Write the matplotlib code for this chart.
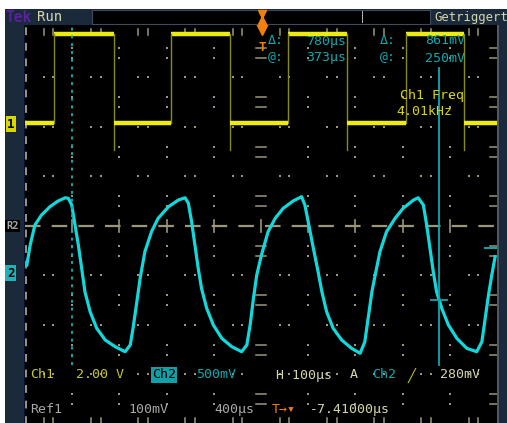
import matplotlib

matplotlib.use("Agg")
import matplotlib.pyplot as plt
import numpy as np
from matplotlib.lines import Line2D
from matplotlib.patches import Rectangle

# --- channel data ---------------------------------------------------------
# Ch2 (cyan): time in microseconds, voltage in mV relative to the Ch2 ground marker
ch2_time_us = [
    -496, -489, -479, -465, -447, -430, -415, -408, -401, -394, -387, -380, -373,
    -362, -348, -330, -309, -288, -277, -271, -263, -256, -246, -232, -218, -196,
    -175, -161, -154, -147, -140, -133, -126, -115, -101, -83, -62, -41, -30, -23,
    -16, -9, 1, 15, 30, 47, 68, 86, 93, 100, 111, 121, 129, 139, 153, 171, 192,
    210, 220, 227, 235, 242, 252, 266, 284, 301, 323, 333, 344, 351, 358, 365,
    372, 383, 397, 415, 436, 457, 468, 475, 482, 489, 496,
]
ch2_mv = [
    81, 283, 485, 586, 670, 727, 760, 754, 687, 485, 283, 50, -189,
    -391, -559, -677, -744, -795, -727, -556, -290, -51, 215, 417, 552, 670,
    737, 760, 707, 518, 283, 47, -155, -357, -525, -660, -744, -795, -727, -525,
    -256, -20, 182, 417, 552, 653, 727, 771, 687, 518, 249, 13, -189, -391, -559,
    -677, -761, -811, -694, -458, -189, -20, 215, 417, 552, 653, 737, 760, 687,
    485, 249, 13, -189, -357, -525, -660, -761, -795, -694, -458, -222, -20, 165,
]

# Ch1 (yellow): square wave edges in microseconds, levels in volts
ch1_rise_us = [-439, -191, 57, 307]
ch1_fall_us = [-311, -66, 182, 430]
ch1_high_v = 3.6
ch1_low_v = 0.0
ch1_undershoot_v = -1.09

# cursors (microseconds)
cursor_a_us = -400
cursor_b_us = 378

# scope settings
time_per_div = 100.0  # us
ch1_per_div = 2.0  # V
ch2_per_div = 500.0  # mV
ch1_offset_div = 2.08
ch2_offset_div = -0.95

W, H = 507, 423
BG = "#1b2a3a"
GRAT = "#9c977a"
YEL = "#ecec10"
YEL_DIM = "#8a8a18"
CYAN = "#12d8dc"
CYAN_TXT = "#10a8b0"
BEIGE = "#d6d6ac"
GRAY = "#a8a8a8"
ORANGE = "#f08010"

fig = plt.figure(figsize=(W / 100, H / 100), dpi=100)
fig.patch.set_facecolor("white")


def px(x, y):
    return x / W, 1 - y / H


# instrument frame (kept below the axes)
fig.add_artist(Rectangle(px(5, 423), (W - 5) / W, (423 - 9) / H, transform=fig.transFigure,
                         facecolor=BG, edgecolor="none", zorder=-10))
fig.add_artist(Rectangle(px(92, 24), (430 - 92) / W, 14 / H, transform=fig.transFigure,
                         facecolor="black", edgecolor="#3c4c5c", linewidth=0.8, zorder=-9))
fig.add_artist(Rectangle(px(362, 23), 1.2 / W, 12 / H, transform=fig.transFigure,
                         facecolor="#b0b0b0", edgecolor="none", zorder=-8))
fig.add_artist(Rectangle(px(24, 423), 1.5 / W, 398 / H, transform=fig.transFigure,
                         facecolor="#0a1030", edgecolor="none", zorder=-8))
fig.add_artist(Rectangle(px(497, 423), 1.5 / W, 398 / H, transform=fig.transFigure,
                         facecolor="#4a5a6a", edgecolor="none", zorder=-8))
# trigger position icon in the record bar
fig.add_artist(Line2D([262 / W], [1 - 14 / H], marker="v", ms=6, color=ORANGE,
                      transform=fig.transFigure, zorder=5))
fig.add_artist(Line2D([262 / W], [1 - 20 / H], marker="^", ms=6, color=ORANGE,
                      transform=fig.transFigure, zorder=5))

ax = fig.add_axes([25 / W, 0, 472 / W, 398 / H])
ax.set_facecolor("black")
ax.set_xlim(-5, 5)
ax.set_ylim(-3.98, 4.06)
ax.set_xticks([])
ax.set_yticks([])
for s in ax.spines.values():
    s.set_visible(False)

# graticule: sparse pairs of dots between the division lines
x_marks = np.array([k + d for k in range(-5, 5) for d in (0.4, 0.6)])
y_marks = np.array([k + d for k in range(-4, 4) for d in (0.4, 0.6)])
for gx in range(-4, 5):
    if gx == 0:
        continue
    ax.plot(np.full_like(y_marks, gx), y_marks, ls="none", marker="s", ms=1.5, color=GRAT, mew=0)
for gy in [-3, -2, -1, 1, 2, 3]:
    ax.plot(x_marks, np.full_like(x_marks, gy), ls="none", marker="s", ms=1.5, color=GRAT, mew=0)
# centre lines
ax.plot([-5, 5], [0, 0], color=GRAT, lw=1.6, dashes=(7, 5))
for gx in range(-4, 5):
    ax.plot([gx, gx], [-0.12, 0.12], color=GRAT, lw=1.2)
for ty in y_marks:
    ax.plot([-0.1, 0.1], [ty, ty], color=GRAT, lw=1.1)
    ax.plot([4.86, 5], [ty, ty], color=GRAT, lw=1.1)
for tx in x_marks:
    ax.plot([tx, tx], [3.98, 3.86], color=GRAT, lw=1.1)
    ax.plot([tx, tx], [-3.98, -3.88], color=GRAT, lw=1.1)
ax.plot([-4.98, -4.98], [-4, 4.06], color=GRAT, lw=1.4, dashes=(4, 4))

# Ch1 square wave
t_rise = np.array(ch1_rise_us) / time_per_div
t_fall = np.array(ch1_fall_us) / time_per_div
hi = ch1_offset_div + ch1_high_v / ch1_per_div
lo = ch1_offset_div + ch1_low_v / ch1_per_div
us = ch1_offset_div + ch1_undershoot_v / ch1_per_div
for r, f in zip(t_rise, t_fall):
    ax.plot([r, f], [hi, hi], color=YEL, lw=3.2, solid_capstyle="butt")
    ax.plot([r, r], [lo, hi], color=YEL_DIM, lw=1.0)
    ax.plot([f, f], [us, hi], color=YEL_DIM, lw=1.0)
lows = [-5] + list(t_fall)
ends = list(t_rise) + [5]
for a, b in zip(lows, ends):
    ax.plot([a, b], [lo, lo], color=YEL, lw=3.2, solid_capstyle="butt")

# Ch2 waveform
t2 = np.array(ch2_time_us) / time_per_div
v2 = ch2_offset_div + np.array(ch2_mv) / ch2_per_div
ax.plot(t2, v2, color=CYAN, lw=2.3)

# cursors
ca = cursor_a_us / time_per_div
cb = cursor_b_us / time_per_div
ax.plot([ca, ca], [-2.81, 4.02], color=CYAN_TXT, lw=1.4, dashes=(1.5, 2.5))
ax.plot([cb, cb], [-2.81, 3.19], color=CYAN_TXT, lw=1.3)
ax.plot([cb - 0.17, cb + 0.17], [-1.49, -1.49], color=CYAN_TXT, lw=1.3)
ax.plot([4.75, 5], [-0.45, -0.45], color=CYAN_TXT, lw=1.4)

# trigger marker
ax.plot([0.02], [3.98], marker="v", color=ORANGE, ms=9)
ax.text(0.02, 3.6, "T", color=ORANGE, fontsize=9, fontweight="bold", ha="center", va="center",
        family="DejaVu Sans Mono")


def label(x, y, s, color, size=9.5, **kw):
    fig.text(*px(x, y), s, color=color, fontsize=size, va="center", ha="left",
             family="DejaVu Sans Mono", **kw)


# top status bar
label(5, 17, "Tek", "#5a20a0", size=10.5, fontweight="bold")
label(37, 17, "Run", BEIGE, size=10)
label(434, 17, "Getriggert", BEIGE, size=8.8)

# cursor readout
label(268, 41, "\u0394:", CYAN_TXT)
label(306, 41, "780\u00b5s", CYAN_TXT)
label(380, 41, "\u0394:", CYAN_TXT)
label(425, 41, "861mV", CYAN_TXT)
label(268, 58, "@:", CYAN_TXT)
label(306, 58, "373\u00b5s", CYAN_TXT)
label(380, 58, "@:", CYAN_TXT)
label(425, 58, "250mV", CYAN_TXT)

label(400, 96, "Ch1 Freq", "#d8d800")
label(396, 111, "4.01kHz", "#d8d800")

# channel markers on the left edge
fig.text(*px(7, 124), "1", color="black", fontsize=9, fontweight="bold", va="center",
         family="DejaVu Sans Mono",
         bbox=dict(boxstyle="square,pad=0.12", facecolor="#d8d800", edgecolor="none"))
fig.text(*px(6, 226), "R2", color=GRAY, fontsize=7.5, fontweight="bold", va="center",
         family="DejaVu Sans Mono",
         bbox=dict(boxstyle="square,pad=0.1", facecolor="black", edgecolor="none"))
fig.text(*px(7, 273), "2", color="black", fontsize=9, fontweight="bold", va="center",
         family="DejaVu Sans Mono",
         bbox=dict(boxstyle="square,pad=0.15", facecolor="#20b0b8", edgecolor="none"))

# bottom readout
label(30, 375, "Ch1", "#c8c828")
label(76, 375, "2.00 V", "#c8c828")
fig.text(*px(152, 375), "Ch2", color="black", fontsize=9.5, va="center",
         family="DejaVu Sans Mono",
         bbox=dict(boxstyle="square,pad=0.1", facecolor="#10a0a8", edgecolor="none"))
label(196, 375, "500mV", CYAN_TXT)
label(276, 375, "H 100\u00b5s", BEIGE)
label(350, 375, "A", BEIGE)
label(372, 375, "Ch2", CYAN_TXT)
label(408, 375, "\u2571", "#c8c828")
label(440, 375, "280mV", BEIGE)
label(30, 409, "Ref1", GRAY)
label(128, 409, "100mV", GRAY)
label(214, 409, "400\u00b5s", GRAY)
label(272, 409, "T\u2192\u25be", ORANGE)
label(310, 409, "-7.41000\u00b5s", BEIGE)

fig.savefig("out.png", dpi=100, facecolor="white")
